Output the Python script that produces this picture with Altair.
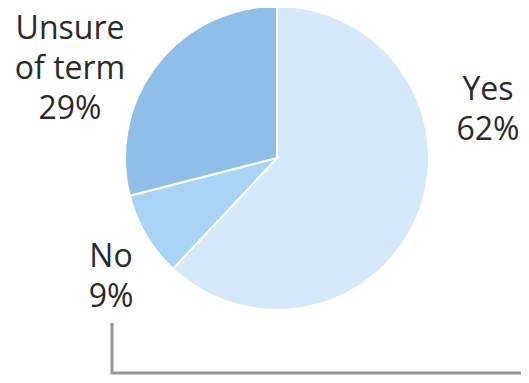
import altair as alt
import pandas as pd

categories = ["Yes", "No", "Unsure of term"]
values = [62, 9, 29]
label_lines = [["Yes"], ["No"], ["Unsure", "of term"]]
colors = ["#d5e9fb", "#a9d4f6", "#8fbfe9"]

df = pd.DataFrame({
    "category": categories,
    "value": values,
    "order": list(range(len(categories))),
})

W, H = 513, 367
CX, CY, R = 269, 150, 152

pie = alt.Chart(df).mark_arc(
    outerRadius=R, stroke="white", strokeWidth=2
).encode(
    theta=alt.Theta("value:Q", stack=True),
    order=alt.Order("order:Q"),
    color=alt.Color("category:N",
                    scale=alt.Scale(domain=categories, range=colors),
                    legend=None),
    x=alt.value(CX),
    y=alt.value(CY),
)

label_pos = {"Yes": (480, 92), "No": (103, 259), "Unsure of term": (62, 31)}

layers = [pie]
for cat, val, lines in zip(categories, values, label_lines):
    txt = "\n".join(lines + [f"{val}%"])
    sub = pd.DataFrame({"label": [txt]})
    px, py = label_pos[cat]
    layers.append(
        alt.Chart(sub).mark_text(
            font="Open Sans", fontSize=32, color="#2a2a2a",
            align="center", baseline="alphabetic",
            lineBreak="\n", lineHeight=40,
        ).encode(text="label:N", x=alt.value(px), y=alt.value(py))
    )

line_df = pd.DataFrame({"k": [0]})
vline = alt.Chart(line_df).mark_rule(color="#959595", strokeWidth=3).encode(
    x=alt.value(104), y=alt.value(315), y2=alt.value(366)
)
hline = alt.Chart(line_df).mark_rule(color="#959595", strokeWidth=3).encode(
    x=alt.value(103), x2=alt.value(W), y=alt.value(365)
)
layers += [vline, hline]

chart = alt.layer(*layers).properties(
    width=W, height=H, padding=0,
    autosize=alt.AutoSizeParams(type="none"),
).configure_view(stroke=None)

chart.save("out.html", embed_options={"renderer": "svg", "actions": False})
